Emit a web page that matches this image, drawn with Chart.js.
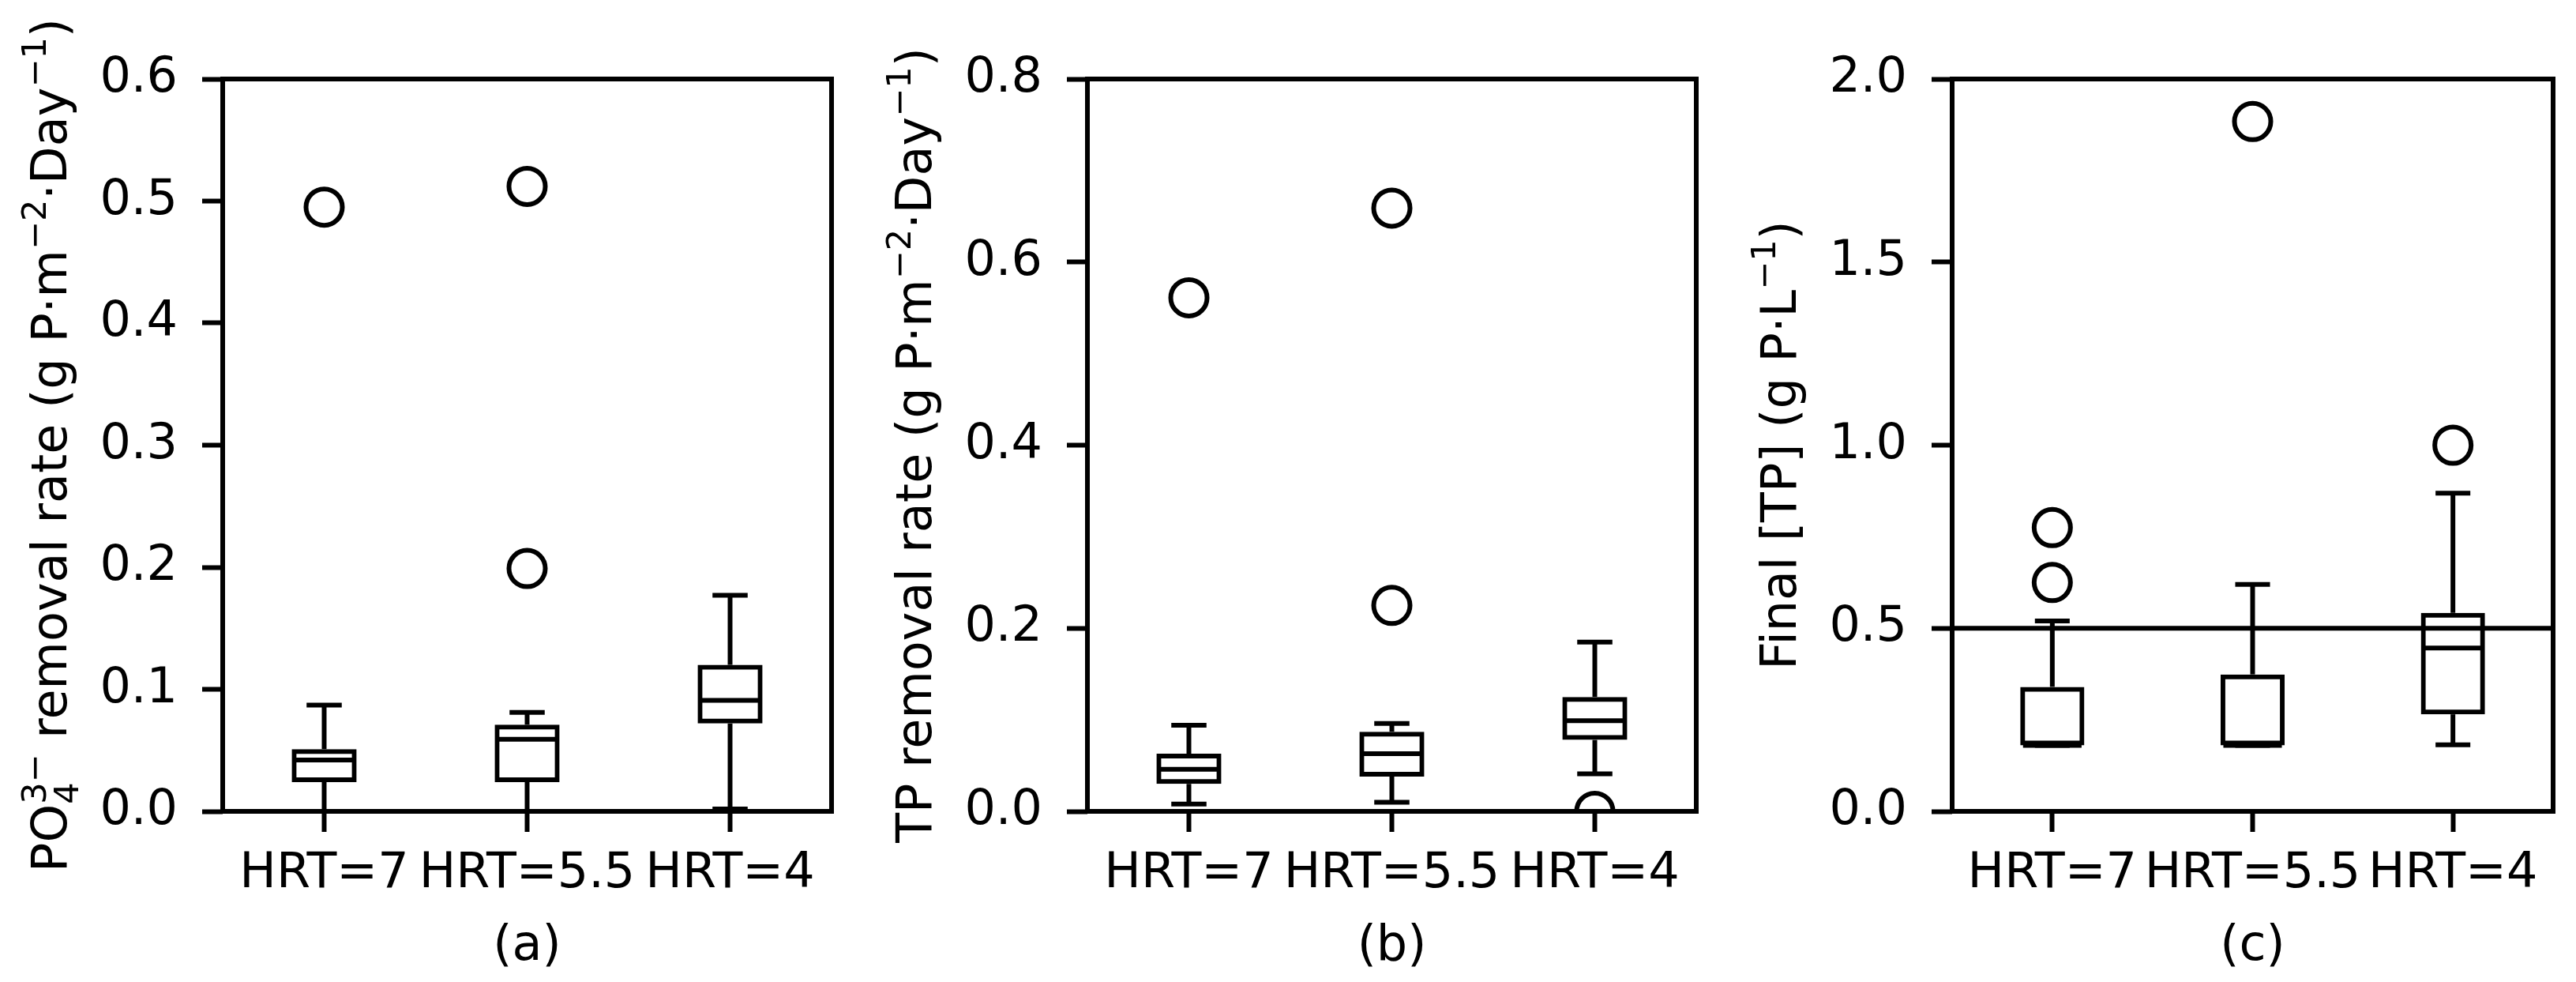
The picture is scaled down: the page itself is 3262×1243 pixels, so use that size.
<!DOCTYPE html>
<html>
<head>
<meta charset="utf-8">
<script src="https://cdn.jsdelivr.net/npm/chart.js@4.4.0/dist/chart.umd.min.js"></script>
<style>
    html, body { margin: 0; padding: 0; background: #fff; }
    #wrap { position: relative; width: 3262px; height: 1243px; overflow: hidden; }
    canvas { position: absolute; top: 0; }
</style>
</head>
<body>
<div id="wrap">
    <canvas id="panelA" width="1100" height="1243" style="left:0px"></canvas>
    <canvas id="panelB" width="1090" height="1243" style="left:1100px"></canvas>
    <canvas id="panelC" width="1072" height="1243" style="left:2190px"></canvas>
</div>
<script>
var categories = ['HRT=7', 'HRT=5.5', 'HRT=4'];

// (a) PO4 removal rate — box stats per HRT
var poLow = [-0.01, -0.01, 0.002];
var poQ1 = [0.024, 0.024, 0.072];
var poMed = [0.042, 0.059, 0.091];
var poQ3 = [0.051, 0.071, 0.120];
var poHigh = [0.087, 0.081, 0.177];
var poFliers = [[0.495], [0.512, 0.199], []];
var poTicks = [0.0, 0.1, 0.2, 0.3, 0.4, 0.5, 0.6];

// (b) TP removal rate
var tpLow = [0.008, 0.010, 0.041];
var tpQ1 = [0.030, 0.038, 0.078];
var tpMed = [0.046, 0.063, 0.099];
var tpQ3 = [0.063, 0.087, 0.125];
var tpHigh = [0.094, 0.096, 0.185];
var tpFliers = [[0.561], [0.659, 0.225], [0.0]];
var tpTicks = [0.0, 0.2, 0.4, 0.6, 0.8];

// (c) final TP concentration
var finLow = [0.18, 0.18, 0.182];
var finQ1 = [0.18, 0.18, 0.265];
var finMed = [0.18, 0.18, 0.446];
var finQ3 = [0.34, 0.374, 0.542];
var finHigh = [0.52, 0.62, 0.869];
var finFliers = [[0.625, 0.775], [1.884], [1.0]];
var finTicks = [0.0, 0.5, 1.0, 1.5, 2.0];
var finLimit = 0.5;

// axis labels, split into runs so super/subscripts can be drawn
var poLabel = [{ text: 'PO' }, { sup: '3\u2212', sub: '4' }, { text: ' removal rate (g P\u00b7m' }, { sup: '\u22122' }, { text: '\u00b7Day' }, { sup: '\u22121' }, { text: ')' }];
var tpLabel = [{ text: 'TP removal rate (g P\u00b7m' }, { sup: '\u22122' }, { text: '\u00b7Day' }, { sup: '\u22121' }, { text: ')' }];
var finLabel = [{ text: 'Final [TP] (g P\u00b7L' }, { sup: '\u22121' }, { text: ')' }];

var FONT = 'DejaVu Sans';
var FONT_SIZE = 62;
var LW = 6;

Chart.defaults.font.family = FONT;
Chart.defaults.color = '#000';

function drawRichLabel(ctx, parts, x, cy) {
    var big = FONT_SIZE + 'px "' + FONT + '"';
    var small = Math.round(FONT_SIZE * 0.7) + 'px "' + FONT + '"';
    var total = 0;
    var widths = parts.map(function (pt) {
        var w;
        if (pt.text !== undefined) {
            ctx.font = big;
            w = ctx.measureText(pt.text).width;
        } else {
            ctx.font = small;
            w = Math.max(pt.sup ? ctx.measureText(pt.sup).width : 0, pt.sub ? ctx.measureText(pt.sub).width : 0);
        }
        total += w;
        return w;
    });
    ctx.save();
    ctx.translate(x, cy);
    ctx.rotate(-Math.PI / 2);
    ctx.fillStyle = '#000';
    ctx.textAlign = 'left';
    ctx.textBaseline = 'alphabetic';
    var cx = -total / 2;
    parts.forEach(function (pt, i) {
        if (pt.text !== undefined) {
            ctx.font = big;
            ctx.fillText(pt.text, cx, 0);
        } else {
            ctx.font = small;
            if (pt.sup) ctx.fillText(pt.sup, cx, -0.42 * FONT_SIZE);
            if (pt.sub) ctx.fillText(pt.sub, cx, 0.24 * FONT_SIZE);
        }
        cx += widths[i];
    });
    ctx.restore();
}

function makePanel(p) {
    var flierData = [];
    p.fliers.forEach(function (list, i) {
        list.forEach(function (v) { flierData.push({ x: categories[i], y: v }); });
    });

    // whiskers, caps, medians, reference line, frame and y label
    var boxParts = {
        id: 'boxParts',
        afterDatasetsDraw: function (chart) {
            var ctx = chart.ctx, a = chart.chartArea;
            var xs = chart.scales.x, ys = chart.scales.y;
            var step = xs.getPixelForValue(1) - xs.getPixelForValue(0);
            function seg(x1, y1, x2, y2) {
                ctx.beginPath(); ctx.moveTo(x1, y1); ctx.lineTo(x2, y2); ctx.stroke();
            }
            ctx.save();
            ctx.beginPath();
            ctx.rect(a.left, a.top, a.right - a.left, a.bottom - a.top);
            ctx.clip();
            ctx.strokeStyle = '#000';
            ctx.lineWidth = LW;
            categories.forEach(function (c, i) {
                var x = xs.getPixelForValue(i);
                var yLo = ys.getPixelForValue(p.low[i]);
                var yQ1 = ys.getPixelForValue(p.q1[i]);
                var yMed = ys.getPixelForValue(p.med[i]);
                var yQ3 = ys.getPixelForValue(p.q3[i]);
                var yHi = ys.getPixelForValue(p.high[i]);
                ctx.lineCap = 'butt';
                seg(x, yQ1, x, yLo);
                seg(x, yQ3, x, yHi);
                var half = p.boxWidth / 2 * step;
                seg(x - half + 1, yMed, x + half - 1, yMed);
                ctx.lineCap = 'square';
                var cap = p.boxWidth / 4 * step;
                seg(x - cap, yLo, x + cap, yLo);
                seg(x - cap, yHi, x + cap, yHi);
            });
            if (p.limit !== undefined) {
                ctx.lineCap = 'butt';
                var yl = ys.getPixelForValue(p.limit);
                seg(a.left, yl, a.right, yl);
            }
            ctx.restore();

            ctx.save();
            ctx.strokeStyle = '#000';
            ctx.lineWidth = LW;
            ctx.lineJoin = 'miter';
            ctx.strokeRect(a.left, a.top, a.right - a.left, a.bottom - a.top);
            ctx.restore();

            drawRichLabel(ctx, p.yLabel, a.left - 198, (a.top + a.bottom) / 2);
        }
    };

    var tickFont = { family: FONT, size: FONT_SIZE };

    return new Chart(document.getElementById(p.canvas), {
        type: 'bar',
        data: {
            labels: categories,
            datasets: [
                {
                    type: 'bar',
                    data: categories.map(function (c, i) { return [p.q1[i], p.q3[i]]; }),
                    backgroundColor: 'rgba(0,0,0,0)',
                    borderColor: '#000',
                    borderWidth: LW,
                    borderSkipped: false,
                    barPercentage: p.boxWidth + 0.02,
                    categoryPercentage: 1
                },
                {
                    type: 'line',
                    data: flierData,
                    showLine: false,
                    pointRadius: 23,
                    pointBorderWidth: LW,
                    pointBorderColor: '#000',
                    pointBackgroundColor: 'rgba(0,0,0,0)',
                    clip: 0
                }
            ]
        },
        options: {
            responsive: false,
            animation: false,
            devicePixelRatio: 1,
            events: [],
            layout: { padding: { top: 100, right: p.padRight, bottom: 0, left: 0 } },
            plugins: {
                legend: { display: false },
                tooltip: { enabled: false }
            },
            scales: {
                x: {
                    type: 'category',
                    offset: true,
                    grid: { offset: false, drawOnChartArea: false, drawTicks: true, tickLength: 26, tickWidth: LW, tickColor: '#000' },
                    border: { display: false },
                    ticks: { font: tickFont, color: '#000', padding: 17, maxRotation: 0, minRotation: 0, autoSkip: false },
                    title: { display: true, text: p.xTitle, font: tickFont, color: '#000', padding: { top: 0, bottom: 7 } },
                    afterFit: function (s) { s.height = 216; }
                },
                y: {
                    min: p.ticks[0],
                    max: p.ticks[p.ticks.length - 1],
                    afterBuildTicks: function (s) {
                        s.ticks = p.ticks.map(function (v) { return { value: v }; });
                    },
                    grid: { drawOnChartArea: false, drawTicks: true, tickLength: 26, tickWidth: LW, tickColor: '#000' },
                    border: { display: false },
                    ticks: {
                        font: tickFont,
                        color: '#000',
                        padding: 31,
                        callback: function (v) { return Number(v).toFixed(1); }
                    },
                    afterFit: function (s) { s.width = p.left; }
                }
            }
        },
        plugins: [boxParts]
    });
}

makePanel({
    canvas: 'panelA', left: 282, padRight: 47, boxWidth: 0.3,
    low: poLow, q1: poQ1, med: poMed, q3: poQ3, high: poHigh, fliers: poFliers,
    ticks: poTicks, yLabel: poLabel, xTitle: '(a)'
});
makePanel({
    canvas: 'panelB', left: 277, padRight: 42, boxWidth: 0.3,
    low: tpLow, q1: tpQ1, med: tpMed, q3: tpQ3, high: tpHigh, fliers: tpFliers,
    ticks: tpTicks, yLabel: tpLabel, xTitle: '(b)'
});
makePanel({
    canvas: 'panelC', left: 282, padRight: 18, boxWidth: 0.3,
    low: finLow, q1: finQ1, med: finMed, q3: finQ3, high: finHigh, fliers: finFliers,
    ticks: finTicks, yLabel: finLabel, xTitle: '(c)', limit: finLimit
});
</script>
</body>
</html>
